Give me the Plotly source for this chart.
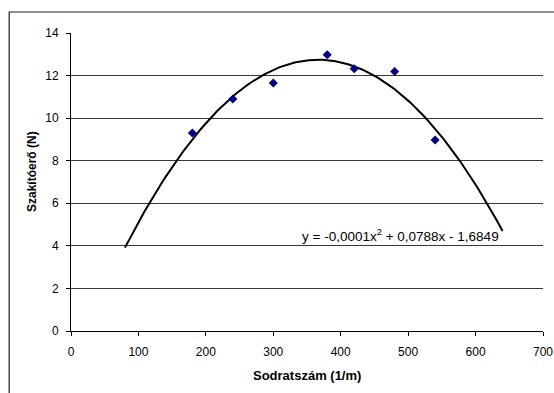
import numpy as np
import plotly.graph_objects as go

# Data
sodratszam = [180, 240, 300, 380, 420, 480, 540]
szakitoero = [9.3, 10.9, 11.65, 12.98, 12.32, 12.19, 8.97]

# Polynomial (order 2) trendline, extended from 80 to 640 as in the reference
trend_x_start = 80
trend_x_end = 640
trend_label = "y = -0,0001x<sup>2</sup> + 0,0788x - 1,6849"

x_ticks = [0, 100, 200, 300, 400, 500, 600, 700]
y_ticks = [0, 2, 4, 6, 8, 10, 12, 14]
x_title = "Sodratszám (1/m)"
y_title = "Szakítóerő (N)"

coef = np.polyfit(sodratszam, szakitoero, 2)
tx = np.linspace(trend_x_start, trend_x_end, 200)
ty = np.polyval(coef, tx)

FONT = "Liberation Sans, Arial, sans-serif"

fig = go.Figure()
fig.add_trace(go.Scatter(x=tx, y=ty, mode="lines",
                         line=dict(color="black", width=2), hoverinfo="skip",
                         showlegend=False))
fig.add_trace(go.Scatter(x=sodratszam, y=szakitoero, mode="markers",
                         marker=dict(symbol="diamond", size=7, color="#000080"),
                         showlegend=False))

# trendline equation
fig.add_annotation(x=trend_x_end, y=4.5, xref="x", yref="y",
                   text=trend_label, showarrow=False,
                   xanchor="right", yanchor="middle", xshift=-2,
                   font=dict(family=FONT, size=13.5, color="black"))

# axis titles
fig.add_annotation(x=0.5, y=-0.1477, xref="paper", yref="paper",
                   text="<b>" + x_title + "</b>", showarrow=False,
                   xanchor="center", yanchor="middle",
                   font=dict(family=FONT, size=13, color="black"))
fig.add_annotation(x=-0.0826, y=0.5336, xref="paper", yref="paper",
                   text="<b>" + y_title + "</b>", showarrow=False, textangle=-90,
                   xanchor="center", yanchor="middle",
                   font=dict(family=FONT, size=12, color="black"))

# outer chart border (left and top visible)
fig.add_shape(type="path", xref="paper", yref="paper",
              path="M -0.131,-0.3 L -0.131,1.0705 L 1.1,1.0705",
              line=dict(color="#222222", width=1.2))

fig.update_layout(
    width=554, height=393,
    margin=dict(l=71, r=11, t=33, b=62, autoexpand=False),
    paper_bgcolor="white", plot_bgcolor="white",
    font=dict(family=FONT, size=12, color="black"),
    xaxis=dict(range=[0, 700], tickvals=x_ticks, showgrid=False,
               showline=True, linecolor="black", linewidth=1,
               ticks="outside", ticklen=4, tickcolor="black", zeroline=False,
               automargin=False, ticklabelstandoff=6,
               tickfont=dict(family=FONT, size=12)),
    yaxis=dict(range=[0, 14], tickvals=y_ticks, showgrid=True,
               gridcolor="#383838", gridwidth=1,
               showline=True, linecolor="black", linewidth=1,
               ticks="outside", ticklen=4, tickcolor="black", zeroline=False,
               automargin=False, ticklabelstandoff=5,
               tickfont=dict(family=FONT, size=12)),
)

fig.write_html("out.html", config={"displayModeBar": False},
               post_script="document.body.style.margin='0';document.body.style.overflow='hidden';")
